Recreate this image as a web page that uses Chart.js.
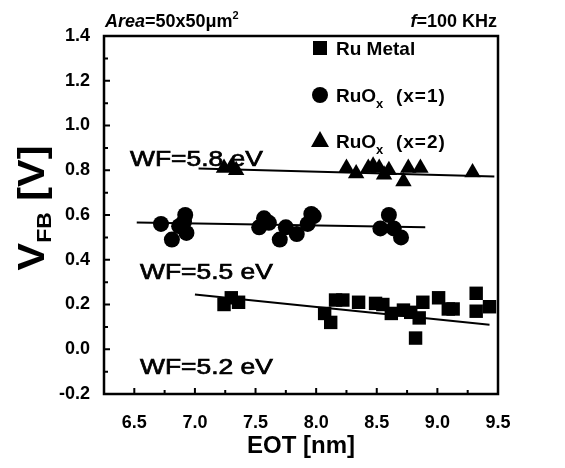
<!DOCTYPE html>
<html>
<head>
<meta charset="utf-8">
<script src="https://cdn.jsdelivr.net/npm/chart.js@4.4.1/dist/chart.umd.min.js"></script>
<style>
  body { margin: 0; background: #fff; }
  canvas { display: block; }
</style>
</head>
<body>
<canvas id="vfbChart" width="565" height="468"></canvas>
<script>
// tick labels
const xTicks = [6.5, 7.0, 7.5, 8.0, 8.5, 9.0, 9.5];
const yTicks = [-0.2, 0.0, 0.2, 0.4, 0.6, 0.8, 1.0, 1.2, 1.4];

// Ru Metal (squares)
const ruX = [7.24, 7.30, 7.36, 8.07, 8.12, 8.16, 8.22, 8.35, 8.49, 8.55, 8.62, 8.72, 8.78, 8.85, 8.88, 8.82, 9.01, 9.09, 9.13, 9.32, 9.32, 9.43];
const ruY = [0.20, 0.23, 0.21, 0.16, 0.12, 0.22, 0.22, 0.21, 0.205, 0.20, 0.16, 0.175, 0.165, 0.14, 0.21, 0.05, 0.23, 0.18, 0.18, 0.25, 0.17, 0.19];

// RuOx x=1 (circles)
const ox1X = [6.72, 6.81, 6.87, 6.92, 6.93, 6.91, 7.53, 7.57, 7.61, 7.70, 7.75, 7.84, 7.93, 7.96, 7.98, 8.53, 8.60, 8.64, 8.70];
const ox1Y = [0.56, 0.49, 0.55, 0.60, 0.52, 0.57, 0.545, 0.585, 0.565, 0.49, 0.545, 0.515, 0.56, 0.605, 0.595, 0.54, 0.60, 0.54, 0.50];

// RuOx x=2 (triangles)
const ox2X = [7.24, 7.30, 7.34, 8.25, 8.33, 8.43, 8.47, 8.52, 8.56, 8.60, 8.72, 8.76, 8.86, 9.29];
const ox2Y = [0.81, 0.815, 0.80, 0.81, 0.785, 0.81, 0.82, 0.81, 0.78, 0.80, 0.75, 0.81, 0.81, 0.79];

// linear fits
const fitRuX = [7.00, 9.43];
const fitRuY = [0.245, 0.11];
const fitOx1X = [6.52, 8.90];
const fitOx1Y = [0.566, 0.545];
const fitOx2X = [7.03, 9.47];
const fitOx2Y = [0.808, 0.772];

const BOLD = '"Liberation Sans", Arial, sans-serif';

function pts(xs, ys) {
  return xs.map((x, i) => ({ x: x, y: ys[i] }));
}

// draws a run of text pieces (for sub/superscripts)
function drawRuns(ctx, runs, x, y, align, stroke) {
  let total = 0;
  runs.forEach((r) => {
    ctx.font = r.font;
    ctx.letterSpacing = r.ls || "0px";
    total += ctx.measureText(r.t).width;
  });
  let cx = x;
  if (align === "center") cx = x - total / 2;
  if (align === "right") cx = x - total;
  ctx.textAlign = "left";
  ctx.textBaseline = "alphabetic";
  runs.forEach((r) => {
    ctx.font = r.font;
    ctx.letterSpacing = r.ls || "0px";
    ctx.fillText(r.t, cx, y + (r.dy || 0));
    if (stroke) ctx.strokeText(r.t, cx, y + (r.dy || 0));
    cx += ctx.measureText(r.t).width;
  });
  ctx.letterSpacing = "0px";
}

const decorPlugin = {
  id: "decor",
  afterDraw(chart) {
    const ctx = chart.ctx;
    const a = chart.chartArea;
    const xs = chart.scales.x;
    const ys = chart.scales.y;
    ctx.save();
    ctx.fillStyle = "#000";
    ctx.strokeStyle = "#000";

    // frame
    ctx.lineWidth = 2.5;
    ctx.strokeRect(a.left, a.top, a.right - a.left, a.bottom - a.top);

    // inward ticks, minor ones halfway between labels
    ctx.lineWidth = 2;
    ctx.beginPath();
    const xMinor = xTicks.slice(1).map((v, i) => (v + xTicks[i]) / 2);
    xMinor.unshift(xTicks[0] - (xTicks[1] - xTicks[0]) / 2);
    xTicks.forEach((v) => {
      const px = xs.getPixelForValue(v);
      ctx.moveTo(px, a.bottom); ctx.lineTo(px, a.bottom - 6);
    });
    xMinor.forEach((v) => {
      const px = xs.getPixelForValue(v);
      ctx.moveTo(px, a.bottom); ctx.lineTo(px, a.bottom - 4);
    });
    const yMinor = yTicks.slice(1).map((v, i) => (v + yTicks[i]) / 2);
    yTicks.forEach((v) => {
      const py = ys.getPixelForValue(v);
      ctx.moveTo(a.left, py); ctx.lineTo(a.left + 6, py);
    });
    yMinor.forEach((v) => {
      const py = ys.getPixelForValue(v);
      ctx.moveTo(a.left, py); ctx.lineTo(a.left + 4, py);
    });
    ctx.stroke();

    // axis titles
    drawRuns(ctx, [{ t: "EOT [nm]", font: "bold 24px " + BOLD }], (a.left + a.right) / 2, 453, "center");

    ctx.save();
    ctx.translate(31, 208);
    ctx.rotate(-Math.PI / 2);
    ctx.scale(1.15, 1);
    drawRuns(ctx, [
      { t: "V", font: "bold 36px " + BOLD },
      { t: "FB", font: "bold 20px " + BOLD, dy: 7 },
      { t: " [V]", font: "bold 36px " + BOLD }
    ], 0, 13, "center");
    ctx.restore();

    // header notes
    drawRuns(ctx, [
      { t: "Area", font: "italic bold 18px " + BOLD },
      { t: "=50x50\u03bcm", font: "bold 18px " + BOLD },
      { t: "2", font: "bold 11px " + BOLD, dy: -8 }
    ], a.left + 1, 27, "left");
    drawRuns(ctx, [
      { t: "f", font: "italic bold 18px " + BOLD },
      { t: "=100 KHz", font: "bold 18px " + BOLD }
    ], a.right - 1, 27, "right");

    // work function notes, slightly stretched like the original
    const wfFont = "22px " + BOLD;
    ctx.lineWidth = 0.7;
    [["WF=5.8 eV", 130, 166], ["WF=5.5 eV", 140, 279], ["WF=5.2 eV", 140, 374]].forEach((n) => {
      ctx.save();
      ctx.translate(n[1], n[2]);
      ctx.scale(1.2, 1);
      drawRuns(ctx, [{ t: n[0], font: wfFont }], 0, 0, "left", true);
      ctx.restore();
    });

    // legend
    const lx = 320;
    const lf = "bold 19px " + BOLD;
    const ls = "bold 13px " + BOLD;
    ctx.fillRect(lx - 7, 48 - 7, 14, 14);
    drawRuns(ctx, [{ t: "Ru Metal", font: lf }], lx + 16, 55, "left");
    ctx.beginPath(); ctx.arc(lx, 95, 8, 0, Math.PI * 2); ctx.fill();
    drawRuns(ctx, [{ t: "RuO", font: lf }, { t: "x", font: ls, dy: 6 }, { t: "  (x=1)", font: lf, ls: "1px" }], lx + 16, 102, "left");
    ctx.beginPath();
    ctx.moveTo(lx, 141 - 10); ctx.lineTo(lx + 9, 141 + 6); ctx.lineTo(lx - 9, 141 + 6);
    ctx.closePath(); ctx.fill();
    drawRuns(ctx, [{ t: "RuO", font: lf }, { t: "x", font: ls, dy: 6 }, { t: "  (x=2)", font: lf, ls: "1px" }], lx + 16, 148, "left");

    ctx.restore();
  }
};

const fitStyle = {
  type: "line",
  showLine: true,
  pointRadius: 0,
  borderColor: "#000",
  borderWidth: 2,
  fill: false
};

new Chart(document.getElementById("vfbChart"), {
  type: "scatter",
  data: {
    datasets: [
      { label: "Ru Metal", data: pts(ruX, ruY), pointStyle: "rect", pointRadius: 9.5, backgroundColor: "#000", borderColor: "#000", borderWidth: 0 },
      { label: "RuOx (x=1)", data: pts(ox1X, ox1Y), pointStyle: "circle", pointRadius: 8, backgroundColor: "#000", borderColor: "#000", borderWidth: 0 },
      { label: "RuOx (x=2)", data: pts(ox2X, ox2Y), pointStyle: "triangle", pointRadius: 9.5, backgroundColor: "#000", borderColor: "#000", borderWidth: 0 },
      Object.assign({ label: "fit Ru", data: pts(fitRuX, fitRuY) }, fitStyle),
      Object.assign({ label: "fit x1", data: pts(fitOx1X, fitOx1Y) }, fitStyle),
      Object.assign({ label: "fit x2", data: pts(fitOx2X, fitOx2Y) }, fitStyle)
    ]
  },
  options: {
    responsive: false,
    animation: false,
    layout: { padding: { top: 36, right: 67, left: 0, bottom: 0 } },
    plugins: {
      legend: { display: false },
      tooltip: { enabled: false }
    },
    scales: {
      x: {
        type: "linear",
        min: 6.25,
        max: 9.5,
        grid: { display: false },
        border: { display: false },
        afterBuildTicks: (scale) => { scale.ticks = xTicks.map((v) => ({ value: v })); },
        afterFit: (scale) => { scale.height = 74; },
        ticks: {
          color: "#000",
          padding: 10,
          maxRotation: 0,
          font: { family: BOLD, size: 18, weight: "bold" },
          callback: (v) => Number(v).toFixed(1)
        }
      },
      y: {
        type: "linear",
        min: -0.2,
        max: 1.4,
        grid: { display: false },
        border: { display: false },
        afterBuildTicks: (scale) => { scale.ticks = yTicks.map((v) => ({ value: v })); },
        afterFit: (scale) => { scale.width = 104; },
        ticks: {
          color: "#000",
          padding: 6,
          font: { family: BOLD, size: 18, weight: "bold" },
          callback: (v) => Number(v).toFixed(1)
        }
      }
    }
  },
  plugins: [decorPlugin]
});
</script>
</body>
</html>
